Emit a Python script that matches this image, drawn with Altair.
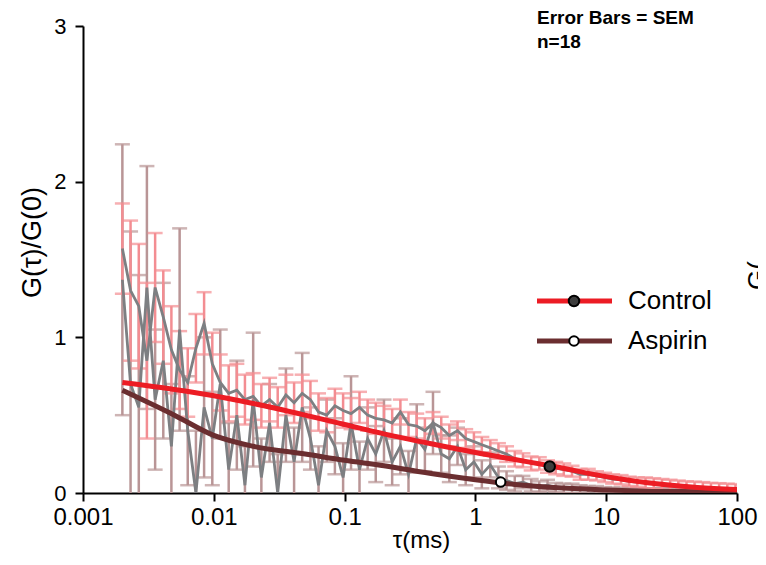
import altair as alt
import pandas as pd

FONT = "Liberation Sans"

# Lag times (ms)
tau = [0.00200, 0.00231, 0.00267, 0.00308, 0.00356, 0.00411, 0.00474, 0.00548,
       0.00632, 0.00730, 0.00843, 0.00974, 0.0112, 0.0130, 0.0150, 0.0173,
       0.0200, 0.0231, 0.0267, 0.0308, 0.0356, 0.0411, 0.0474, 0.0548,
       0.0632, 0.0730, 0.0843, 0.0974, 0.112, 0.130, 0.150, 0.173,
       0.200, 0.231, 0.267, 0.308, 0.356, 0.411, 0.474, 0.548,
       0.632, 0.730, 0.843, 0.974, 1.12, 1.30, 1.50, 1.73,
       2.00, 2.31, 2.67, 3.08, 3.56, 4.11, 4.74, 5.48,
       6.32, 7.30, 8.43, 9.74, 11.2, 13.0, 15.0, 17.3,
       20.0, 23.1, 26.7, 30.8, 35.6, 41.1, 47.4, 54.8,
       63.2, 73.0, 84.3, 97.4]

control_g = [1.57, 1.30, 1.20, 0.85, 1.32, 1.13, 0.92, 0.79, 0.71, 0.93, 1.09, 0.83, 0.71, 0.64, 0.66, 0.60,
             0.62, 0.56, 0.60, 0.55, 0.63, 0.58, 0.64, 0.60, 0.52, 0.50, 0.56, 0.53, 0.51, 0.55, 0.50, 0.48,
             0.47, 0.45, 0.52, 0.44, 0.43, 0.40, 0.45, 0.42, 0.37, 0.40, 0.35, 0.33, 0.31, 0.29, 0.27, 0.25,
             0.22, 0.21, 0.19, 0.19, 0.17, 0.16, 0.15, 0.14, 0.12, 0.12, 0.11, 0.10, 0.09, 0.085, 0.075, 0.07,
             0.065, 0.06, 0.055, 0.05, 0.045, 0.04, 0.038, 0.035, 0.03, 0.028, 0.025, 0.022]
control_sem = [0.29, 0.45, 0.40, 0.50, 0.35, 0.30, 0.28, 0.25, 0.22, 0.22, 0.20, 0.20, 0.18, 0.18, 0.17, 0.16,
               0.15, 0.14, 0.14, 0.13, 0.13, 0.13, 0.12, 0.12, 0.12, 0.11, 0.11, 0.11, 0.10, 0.10, 0.10, 0.10,
               0.09, 0.09, 0.08, 0.08, 0.08, 0.08, 0.07, 0.07, 0.07, 0.06, 0.06, 0.06, 0.05, 0.05, 0.05, 0.05,
               0.05, 0.045, 0.045, 0.04, 0.04, 0.04, 0.04, 0.035, 0.035, 0.035, 0.03, 0.03, 0.03, 0.03, 0.03, 0.03,
               0.035, 0.035, 0.035, 0.035, 0.035, 0.035, 0.035, 0.035, 0.035, 0.035, 0.035, 0.035]

aspirin_g = [1.37, 0.70, 0.55, 1.32, 0.60, 0.85, 0.30, 1.05, 0.40, 0.00, 0.55, 0.35, 0.70, 0.15, 0.50, 0.05,
             0.60, 0.10, 0.45, 0.00, 0.50, 0.20, 0.55, 0.35, 0.05, 0.40, 0.30, 0.10, 0.45, 0.15, 0.35, 0.25,
             0.40, 0.20, 0.30, 0.12, 0.35, 0.28, 0.45, 0.25, 0.22, 0.30, 0.15, 0.20, 0.12, 0.18, 0.10, 0.08,
             0.06, 0.07, 0.05, 0.04, 0.05, 0.035, 0.03, 0.03, 0.025, 0.02, 0.02, 0.018, 0.015, 0.015, 0.012, 0.012,
             0.01, 0.01, 0.012, 0.01, 0.008, 0.008, 0.01, 0.008, 0.006, 0.006, 0.005, 0.005]
aspirin_sem = [0.87, 0.98, 0.85, 0.78, 0.45, 0.50, 0.40, 0.65, 0.35, 0.40, 0.45, 0.30, 0.35, 0.30, 0.35, 0.25,
               0.43, 0.25, 0.25, 0.25, 0.30, 0.22, 0.35, 0.20, 0.25, 0.20, 0.18, 0.22, 0.30, 0.18, 0.20, 0.18,
               0.20, 0.15, 0.18, 0.15, 0.22, 0.14, 0.20, 0.12, 0.15, 0.12, 0.10, 0.10, 0.09, 0.08, 0.07, 0.06,
               0.05, 0.04, 0.04, 0.035, 0.035, 0.03, 0.03, 0.03, 0.025, 0.025, 0.025, 0.02, 0.02, 0.02, 0.02, 0.02,
               0.02, 0.02, 0.02, 0.02, 0.02, 0.02, 0.02, 0.02, 0.02, 0.02, 0.02, 0.02]

# Fitted curves
fit_tau = [0.002, 0.005, 0.01, 0.02, 0.05, 0.1, 0.2, 0.5, 1, 2, 4, 10, 20, 50, 100]
control_fit = [0.71, 0.665, 0.625, 0.575, 0.50, 0.44, 0.38, 0.31, 0.26, 0.215, 0.17, 0.105, 0.067, 0.036, 0.022]
aspirin_fit = [0.66, 0.50, 0.37, 0.30, 0.25, 0.21, 0.175, 0.12, 0.085, 0.055, 0.035, 0.02, 0.012, 0.008, 0.005]

# Characteristic points on fits
marker_series = ["Control", "Aspirin"]
marker_tau = [3.7, 1.56]
marker_g = [0.17, 0.07]

RED = "#ec1c24"
BROWN = "#6b2e30"
PINK = "#f38d92"
ROSY = "#b99596"
GREY = "#7d7f82"

raw = pd.concat([
    pd.DataFrame({"tau": tau, "g": control_g, "sem": control_sem, "series": "Control"}),
    pd.DataFrame({"tau": tau, "g": aspirin_g, "sem": aspirin_sem, "series": "Aspirin"}),
])
raw["lo"] = raw["g"] - raw["sem"]
raw["hi"] = raw["g"] + raw["sem"]

fit = pd.concat([
    pd.DataFrame({"tau": fit_tau, "g": control_fit, "series": "Control"}),
    pd.DataFrame({"tau": fit_tau, "g": aspirin_fit, "series": "Aspirin"}),
])
markers = pd.DataFrame({"tau": marker_tau, "g": marker_g, "series": marker_series})

xs = alt.Scale(type="log", domain=[0.001, 100])
ys = alt.Scale(domain=[0, 3])

xax = alt.Axis(values=[0.001, 0.01, 0.1, 1, 10, 100], labelExpr="format(datum.value, '~g')",
               labelFlush=False, title="τ(ms)", titleFontSize=24, titleFontWeight="normal",
               titleX=338, titleY=35, labelPadding=4, labelFontSize=24)
yax = alt.Axis(values=[0, 1, 2, 3], format="d", title="G(τ)/G(0)", titleFontSize=27,
               titleFontWeight="normal", titleX=-37, titleY=216, labelPadding=9, labelFontSize=22)

X = alt.X("tau:Q", scale=xs, axis=xax)
Y = alt.Y("g:Q", scale=ys, axis=yax)


def errbars(name, color):
    d = raw[raw["series"] == name]
    base = alt.Chart(d)
    rule = base.mark_rule(color=color, strokeWidth=2.5, clip=True).encode(
        x=alt.X("tau:Q", scale=xs), y=alt.Y("lo:Q", scale=ys), y2="hi:Q")
    cap_hi = base.mark_tick(color=color, orient="horizontal", size=15, thickness=2.5, clip=True).encode(
        x=alt.X("tau:Q", scale=xs), y=alt.Y("hi:Q", scale=ys))
    cap_lo = base.mark_tick(color=color, orient="horizontal", size=15, thickness=2.5, clip=True).encode(
        x=alt.X("tau:Q", scale=xs), y=alt.Y("lo:Q", scale=ys))
    return [rule, cap_hi, cap_lo]


layers = []
layers += errbars("Aspirin", ROSY)
layers += errbars("Control", PINK)

for name in ["Aspirin", "Control"]:
    layers.append(alt.Chart(raw[raw["series"] == name]).mark_line(
        color=GREY, strokeWidth=2.8, clip=True).encode(x=X, y=Y))

layers.append(alt.Chart(fit[fit["series"] == "Aspirin"]).mark_line(
    color=BROWN, strokeWidth=5, interpolate="monotone", clip=True).encode(x=X, y=Y))
layers.append(alt.Chart(fit[fit["series"] == "Control"]).mark_line(
    color=RED, strokeWidth=5, interpolate="monotone", clip=True).encode(x=X, y=Y))

layers.append(alt.Chart(markers[markers["series"] == "Control"]).mark_point(
    filled=True, fill="#3d3d3d", stroke="black", strokeWidth=2, size=110, opacity=1).encode(x=X, y=Y))
layers.append(alt.Chart(markers[markers["series"] == "Aspirin"]).mark_point(
    filled=True, fill="white", stroke="black", strokeWidth=2, size=90, opacity=1).encode(x=X, y=Y))

one = pd.DataFrame({"a": [0]})
# Legend (drawn manually)
for label, lc, mf, yy, sz in [("Control", RED, "#3d3d3d", 275, 110), ("Aspirin", BROWN, "white", 315, 90)]:
    layers.append(alt.Chart(one).mark_rule(color=lc, strokeWidth=5).encode(
        x=alt.value(454), x2=alt.value(529), y=alt.value(yy)))
    layers.append(alt.Chart(one).mark_point(filled=True, fill=mf, stroke="black", strokeWidth=2,
                                            size=sz, opacity=1).encode(x=alt.value(491), y=alt.value(yy)))
    layers.append(alt.Chart(one).mark_text(align="left", baseline="middle", fontSize=26, font=FONT,
                                           color="black").encode(
        x=alt.value(545), y=alt.value(yy), text=alt.value(label)))

layers.append(alt.Chart(one).mark_text(align="left", baseline="alphabetic", fontSize=19, fontWeight="bold",
                                       font=FONT, color="black").encode(
    x=alt.value(454), y=alt.value(-2), text=alt.value("Error Bars = SEM")))
layers.append(alt.Chart(one).mark_text(align="left", baseline="alphabetic", fontSize=19, fontWeight="bold",
                                       font=FONT, color="black").encode(
    x=alt.value(454), y=alt.value(22), text=alt.value("n=18")))
# Neighbouring panel's clipped axis title
layers.append(alt.Chart(one).mark_text(align="left", baseline="alphabetic", fontSize=26, angle=270,
                                       font=FONT, color="black").encode(
    x=alt.value(683), y=alt.value(264), text=alt.value("G(")))

chart = alt.layer(*layers).properties(
    width=654, height=467,
    autosize=alt.AutoSizeParams(type="none"),
    padding={"left": 75, "top": 18, "right": 21, "bottom": 64},
).configure_view(stroke=None).configure_axis(
    grid=False, domainColor="black", domainWidth=2, tickColor="black", tickWidth=2, tickSize=8,
    labelFont=FONT, titleFont=FONT, labelColor="black", titleColor="black",
)

chart.save("out.html", embed_options={"renderer": "svg", "actions": False})
